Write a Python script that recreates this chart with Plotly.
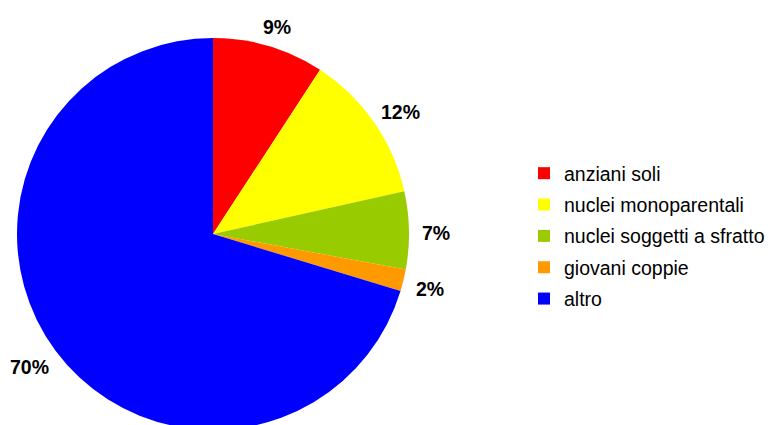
import math
import plotly.graph_objects as go

categories = ["anziani soli", "nuclei monoparentali", "nuclei soggetti a sfratto", "giovani coppie", "altro"]
values = [9.2, 12.3, 6.4, 1.8, 70.3]
value_labels = ["9%", "12%", "7%", "2%", "70%"]
colors = ["#FF0000", "#FFFF00", "#99CC00", "#FF9900", "#0000FF"]

W, H = 773, 425
# pie geometry in paper pixels
CX, CY, R = 205, 226, 196
LABEL_GAP = 13          # distance of label box edge from the rim
LABEL_SIZE = 19.5

fig = go.Figure()
fig.add_trace(go.Pie(
    labels=categories,
    values=values,
    textinfo="none",
    sort=False,
    direction="clockwise",
    rotation=0,
    marker=dict(colors=colors, line=dict(width=0)),
    domain=dict(x=[(CX - R) / W, (CX + R) / W], y=[1 - (CY + R) / H, 1 - (CY - R) / H]),
    automargin=False,
    showlegend=False,
    hoverinfo="label+percent",
))

# legend entries
for i, (cat, col) in enumerate(zip(categories, colors)):
    fig.add_trace(go.Scatter(
        x=[None], y=[None], mode="markers", name=cat,
        marker=dict(symbol="square", size=12, color=col),
        legendgroup=f"g{i}", showlegend=True,
    ))

# percentage labels placed outside each slice's mid-angle
total = sum(values)
cum = 0.0
annotations = []
for v, t in zip(values, value_labels):
    mid = (cum + v / 2) / total * 2 * math.pi
    cum += v
    w = (0.556 * (len(t) - 1) + 0.889) * LABEL_SIZE
    h = LABEL_SIZE
    s, c = math.sin(mid), math.cos(mid)
    px = CX + (R + LABEL_GAP + w / 2) * s
    py = CY - (R + LABEL_GAP + h / 2) * c
    annotations.append(dict(
        x=px / W, y=1 - py / H, xref="paper", yref="paper",
        text=t, showarrow=False, xanchor="center", yanchor="middle", yshift=-3,
        font=dict(family="Liberation Sans", size=LABEL_SIZE, color="black", weight="bold"),
    ))

fig.update_layout(
    width=W, height=H,
    margin=dict(l=0, r=0, t=0, b=0),
    paper_bgcolor="white",
    plot_bgcolor="white",
    xaxis=dict(visible=False),
    yaxis=dict(visible=False),
    annotations=annotations,
    showlegend=True,
    legend=dict(
        x=516 / W, xanchor="left",
        y=1 - 228 / H, yanchor="middle",
        font=dict(family="Liberation Sans", size=19.5, color="black"),
        tracegroupgap=3,
        itemwidth=30,
        bgcolor="rgba(0,0,0,0)",
    ),
)

fig.write_html("out.html")
